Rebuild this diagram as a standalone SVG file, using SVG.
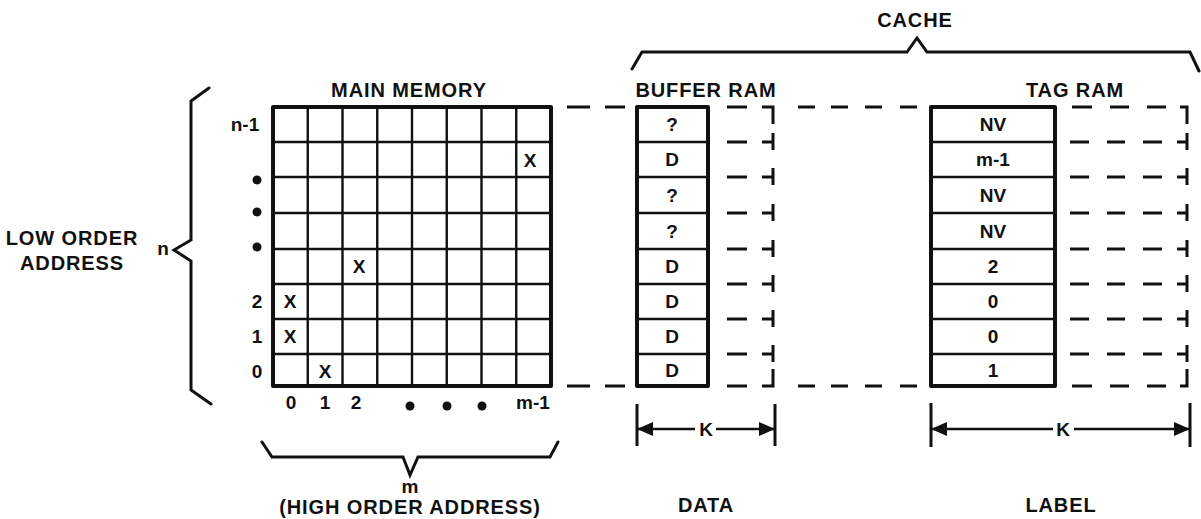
<svg xmlns="http://www.w3.org/2000/svg" width="1201" height="519" viewBox="0 0 1201 519">
<style>
text{font-family:"Liberation Sans",Arial,sans-serif;font-weight:bold;fill:#111;text-anchor:middle}
.lbl{font-size:20px;letter-spacing:0.9px}
.cell{font-size:19px}
.thick{fill:none;stroke:#111;stroke-width:4;stroke-linejoin:round}
.thin{fill:none;stroke:#111;stroke-width:2.4}
.brace{fill:none;stroke:#111;stroke-width:3;stroke-linejoin:miter;stroke-linecap:round}
.dash{fill:none;stroke:#111;stroke-width:3}
.dim{fill:none;stroke:#111;stroke-width:2.4}
.tick{fill:none;stroke:#111;stroke-width:3}
.dot{fill:#111}
</style>
<defs>
<marker id="ah" viewBox="0 0 16 14" refX="15" refY="7" markerWidth="16" markerHeight="14" markerUnits="userSpaceOnUse" orient="auto">
<path d="M0 0 L16 7 L0 14 Z" fill="#111"/>
</marker>
</defs>

<g id="main-memory">
<text class="lbl" x="409" y="97">MAIN MEMORY</text>
<rect class="thick" x="273" y="107" width="278" height="279"/>
<path class="thin" d="M307.75 107V386M342.5 107V386M377.25 107V386M412 107V386M446.75 107V386M481.5 107V386M516.25 107V386M273 142H551M273 177H551M273 213H551M273 249H551M273 284H551M273 319H551M273 354H551"/>
<text class="cell" x="530" y="167">X</text>
<text class="cell" x="359" y="273">X</text>
<text class="cell" x="290" y="308">X</text>
<text class="cell" x="290" y="343">X</text>
<text class="cell" x="325" y="378">X</text>
<text class="cell" x="245" y="131">n-1</text>
<circle class="dot" cx="257" cy="180" r="4.5"/>
<circle class="dot" cx="257" cy="212" r="4.5"/>
<circle class="dot" cx="257" cy="247" r="4.5"/>
<text class="cell" x="257" y="308">2</text>
<text class="cell" x="257" y="343">1</text>
<text class="cell" x="257" y="378">0</text>
<text class="cell" x="291" y="409">0</text>
<text class="cell" x="325" y="409">1</text>
<text class="cell" x="356" y="409">2</text>
<circle class="dot" cx="410" cy="406" r="4.5"/>
<circle class="dot" cx="447" cy="406" r="4.5"/>
<circle class="dot" cx="482" cy="406" r="4.5"/>
<text class="cell" x="533" y="409">m-1</text>
</g>

<g id="low-order-address">
<path class="brace" d="M209 88 L191 101 L191 240 L174 250 L191 261 L191 390 L211 404"/>
<text class="cell" x="163" y="255">n</text>
<text class="lbl" x="72" y="245">LOW ORDER</text>
<text class="lbl" x="72" y="270">ADDRESS</text>
</g>

<g id="high-order-address">
<path class="brace" d="M262 442 L272 457 L403 457 L410 475 L418 457 L550 457 L558 442"/>
<text class="cell" x="410" y="493">m</text>
<text class="lbl" x="410" y="514">(HIGH ORDER ADDRESS)</text>
</g>

<g id="cache">
<path class="brace" d="M632 69 L642 52 L907 52 L917 38 L927 52 L1190 52 L1199 71"/>
<text class="lbl" x="915" y="27">CACHE</text>
</g>

<g id="buffer-ram">
<text class="lbl" x="706" y="97">BUFFER RAM</text>
<rect class="thick" x="637" y="107" width="71" height="279"/>
<path class="thin" d="M637 142H708M637 177H708M637 213H708M637 249H708M637 284H708M637 319H708M637 354H708"/>
<text class="cell" x="672" y="131">?</text>
<text class="cell" x="672" y="166">D</text>
<text class="cell" x="672" y="202">?</text>
<text class="cell" x="672" y="238">?</text>
<text class="cell" x="672" y="273">D</text>
<text class="cell" x="672" y="308">D</text>
<text class="cell" x="672" y="343">D</text>
<text class="cell" x="672" y="377">D</text>
</g>

<g id="tag-ram">
<text class="lbl" x="1075" y="97">TAG RAM</text>
<rect class="thick" x="931" y="107" width="124" height="279"/>
<path class="thin" d="M931 142H1055M931 177H1055M931 213H1055M931 249H1055M931 284H1055M931 319H1055M931 354H1055"/>
<text class="cell" x="993" y="131">NV</text>
<text class="cell" x="993" y="166">m-1</text>
<text class="cell" x="993" y="202">NV</text>
<text class="cell" x="993" y="238">NV</text>
<text class="cell" x="993" y="273">2</text>
<text class="cell" x="993" y="308">0</text>
<text class="cell" x="993" y="343">0</text>
<text class="cell" x="993" y="377">1</text>
</g>

<g id="connectors">
<path class="dash" d="M567 107H590M605 107H625M567 386H590M605 386H625"/>
<path class="dash" d="M727 107H747M762 107H773V124M727 386H747M762 386H773V369"/>
<path class="dash" d="M727 142H747M762 142H773M773 133V150M727 177H747M762 177H773M773 168V185M727 213H747M762 213H773M773 204V221M727 249H747M762 249H773M773 240V257M727 284H747M762 284H773M773 275V292M727 319H747M762 319H773M773 310V327M727 354H747M762 354H773M773 345V362"/>
<path class="dash" d="M798 107H815M831 107H848M865 107H882M900 107H917M798 386H815M831 386H848M865 386H882M900 386H917"/>
<path class="dash" d="M1072 107H1092M1110 107H1129M1147 107H1166M1180 107H1187V124M1072 386H1092M1110 386H1129M1147 386H1166M1180 386H1187V369"/>
<path class="dash" d="M1070 142H1089M1107 142H1125M1143 142H1162M1177 142H1187M1187 133V150M1070 177H1089M1107 177H1125M1143 177H1162M1177 177H1187M1187 168V185M1070 213H1089M1107 213H1125M1143 213H1162M1177 213H1187M1187 204V221M1070 249H1089M1107 249H1125M1143 249H1162M1177 249H1187M1187 240V257M1070 284H1089M1107 284H1125M1143 284H1162M1177 284H1187M1187 275V292M1070 319H1089M1107 319H1125M1143 319H1162M1177 319H1187M1187 310V327M1070 354H1089M1107 354H1125M1143 354H1162M1177 354H1187M1187 345V362"/>
</g>

<g id="data-width">
<path class="tick" d="M637 404V446M775 404V446"/>
<path class="dim" d="M695 429H638" marker-end="url(#ah)"/>
<path class="dim" d="M716 429H774" marker-end="url(#ah)"/>
<text class="cell" x="706" y="436">K</text>
<text class="lbl" x="706" y="512">DATA</text>
</g>

<g id="label-width">
<path class="tick" d="M931 403V447M1190 403V447"/>
<path class="dim" d="M1053 429H932" marker-end="url(#ah)"/>
<path class="dim" d="M1074 429H1189" marker-end="url(#ah)"/>
<text class="cell" x="1063" y="436">K</text>
<text class="lbl" x="1061" y="512">LABEL</text>
</g>
</svg>
